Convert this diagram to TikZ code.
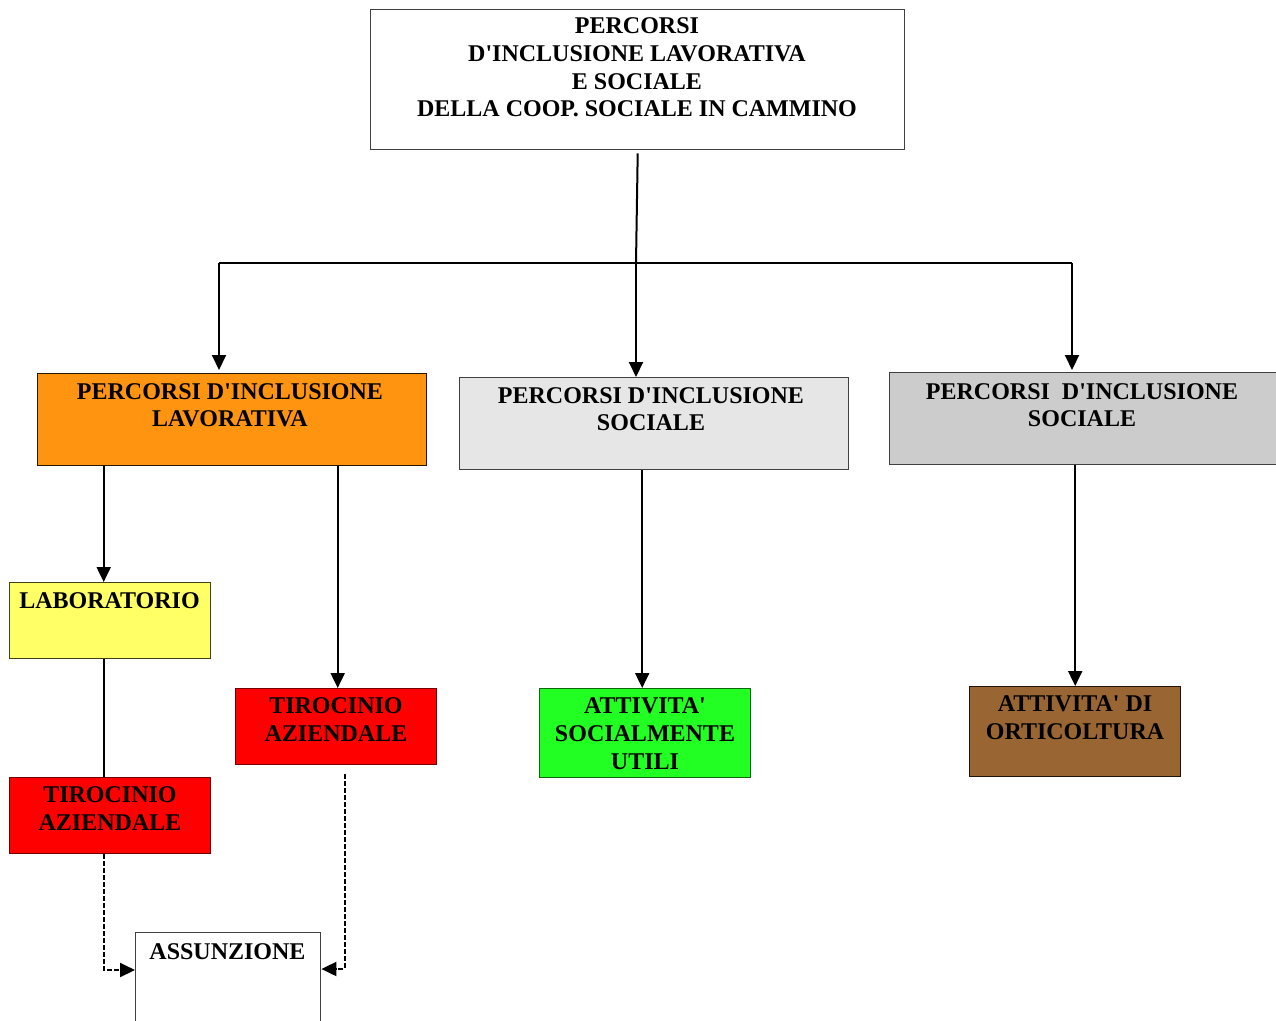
\documentclass[tikz,border=0pt]{standalone}
\usepackage{fontspec}
\setmainfont{Liberation Serif}[Ligatures=TeXOff]
\usetikzlibrary{arrows.meta}
\definecolor{cOrange}{HTML}{FF9411}
\definecolor{cLGray}{HTML}{E6E6E6}
\definecolor{cGray}{HTML}{CCCCCC}
\definecolor{cYellow}{HTML}{FFFF66}
\definecolor{cRed}{HTML}{FF0000}
\definecolor{cGreen}{HTML}{22FF22}
\definecolor{cBrown}{HTML}{996633}
\tikzset{
  box/.style={draw=black!75, line width=1.4pt, rectangle, inner sep=0pt, anchor=north west},
  lbl/.style={inner sep=0pt, anchor=north, align=center, font=\bfseries\fontsize{24}{27.8}\selectfont},
  conn/.style={line width=2pt, draw=black},
  arr/.style={conn, -{Triangle[width=14pt,length=15pt]}},
  darr/.style={arr, dash pattern=on 5pt off 2pt}
}
\begin{document}
\begin{tikzpicture}[x=1pt,y=-1pt]
\useasboundingbox (0,0) rectangle (1276,1020);
\fill[white] (0,0) rectangle (1276,1020);

% boxes
\node[box, fill=white, minimum width=534pt, minimum height=140pt] (top) at (370,9) {};
\node[box, fill=cOrange, draw=black!85!cOrange, minimum width=389pt, minimum height=92pt] (orange) at (37,373) {};
\node[box, fill=cLGray, minimum width=389pt, minimum height=92pt] (lgray) at (459,377) {};
\node[box, fill=cGray, minimum width=410pt, minimum height=92pt] (rgray) at (889,372) {};
\node[box, fill=cYellow, draw=black!75!cYellow, minimum width=201pt, minimum height=76pt] (lab) at (9,582) {};
\node[box, fill=cRed, draw=black!55!cRed, minimum width=201pt, minimum height=76pt] (tirA) at (235,688) {};
\node[box, fill=cGreen, draw=black!60!cGreen, minimum width=211pt, minimum height=89pt] (green) at (539,688) {};
\node[box, fill=cBrown, draw=black!80!cBrown, minimum width=211pt, minimum height=90pt] (brown) at (969,686) {};
\node[box, fill=cRed, draw=black!55!cRed, minimum width=201pt, minimum height=76pt] (tirB) at (9,777) {};
\node[box, fill=white, minimum width=185pt, minimum height=130pt] (assun) at (135,932) {};

% labels
\node[lbl] (ttop) at (637,17.5) {PERCORSI\\D'INCLUSIONE LAVORATIVA\\E SOCIALE\\DELLA COOP. SOCIALE IN CAMMINO};
\node[lbl] (torange) at (230,383) {PERCORSI D'INCLUSIONE\\LAVORATIVA};
\node[lbl] (tlgray) at (651,387) {PERCORSI D'INCLUSIONE\\SOCIALE};
\node[lbl] (trgray) at (1082,383) {PERCORSI\ \ D'INCLUSIONE\\SOCIALE};
\node[lbl] (tlab) at (109.5,592) {LABORATORIO};
\node[lbl] (ttirA) at (336,697.5) {TIROCINIO\\AZIENDALE};
\node[lbl] (tgreen) at (645,697.5) {ATTIVITA'\\SOCIALMENTE\\UTILI};
\node[lbl] (tbrown) at (1075,695.5) {ATTIVITA' DI\\ORTICOLTURA};
\node[lbl] (ttirB) at (110,786.5) {TIROCINIO\\AZIENDALE};
\node[lbl] (tassun) at (227.5,943) {ASSUNZIONE};

% junctions
\coordinate (jc) at (636,263);
\coordinate (jl) at (219,263);
\coordinate (jr) at (1072,263);

% connectors
\draw[conn] ([yshift=-3pt]top.south) -- (jc);
\draw[conn] (jl) -- (jr);
\draw[arr] (jl) -- ([yshift=3pt]jl |- orange.north);
\draw[arr] (jc) -- (jc |- lgray.north);
\draw[arr] (jr) -- ([yshift=2pt]jr |- rgray.north);

\draw[arr] ([xshift=-6.5pt]lab.north |- orange.south) -- ([xshift=-6.5pt]lab.north);
\draw[arr] ([xshift=1.5pt]tirA.north |- orange.south) -- ([xshift=1.5pt]tirA.north);
\draw[arr] ([xshift=-3pt]green.north |- lgray.south) -- ([xshift=-3pt]green.north);
\draw[arr] (brown.north |- rgray.south) -- (brown.north);
\draw[conn] ([xshift=-6.5pt]lab.south) -- ([xshift=-6.5pt]tirB.north);

\draw[darr] ([xshift=-6.5pt]tirB.south) |- ([yshift=-38pt]assun.north west);
\draw[darr] ([xshift=8.5pt,yshift=-9pt]tirA.south) |- ([yshift=-37pt]assun.north east);
\end{tikzpicture}
\end{document}
